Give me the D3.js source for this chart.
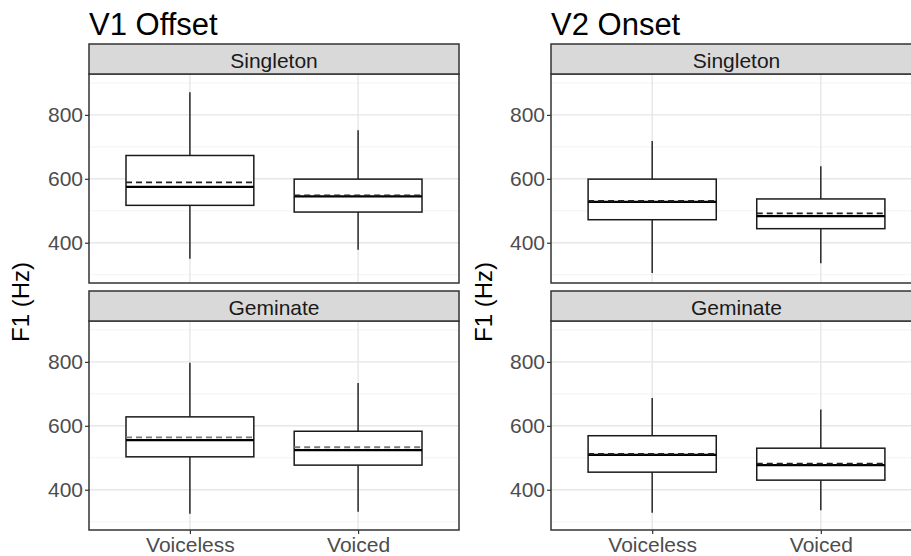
<!DOCTYPE html>
<html>
<head>
<meta charset="utf-8">
<script src="https://cdn.jsdelivr.net/npm/d3@7/dist/d3.min.js"></script>
<style>
  html, body { margin: 0; padding: 0; background: #fff; }
  svg { display: block; font-family: "Liberation Sans", Arial, sans-serif; }
</style>
</head>
<body>
<svg id="chart" width="911" height="556"></svg>
<script>
// ---- data ----
const titles = ["V1 Offset", "V2 Onset"];
const facets = ["Singleton", "Geminate"];
const categories = ["Voiceless", "Voiced"];
const yTicks = [400, 600, 800];
const yMinorTicks = [300, 500, 700, 900];
const yLabel = "F1 (Hz)";
// stats order: [lowerWhisker, q1, median, q3, upperWhisker, mean]
const statKeys = ["low", "q1", "median", "q3", "high", "mean"];
const v1Singleton = [[350, 517, 575, 673, 871, 589], [378, 496, 545, 599, 752, 548]];
const v1Geminate  = [[325, 503, 555, 628, 797, 564], [331, 477, 524, 583, 734, 533]];
const v2Singleton = [[305, 472, 528, 599, 718, 531], [336, 444, 483, 537, 639, 492]];
const v2Geminate  = [[328, 455, 509, 569, 687, 512], [336, 430, 477, 530, 651, 482]];

const chartData = [
  [v1Singleton, v1Geminate],
  [v2Singleton, v2Geminate]
];
const meanColors = [["#222", "#777"], ["#222", "#222"]];

// ---- layout ----
const svg = d3.select("#chart");
const charts = [
  { x0: 89, x1: 459, yLabelX: 21 },
  { x0: 551, x1: 922, yLabelX: 484 }
];
const rows = [
  { stripTop: 44, top: 74, bottom: 283 },
  { stripTop: 291, top: 321, bottom: 530 }
];
const yDomain = [274, 928];
const border = "#333333";

charts.forEach((c, ci) => {
  const g = svg.append("g");
  g.append("text")
    .attr("x", c.x0)
    .attr("y", 35)
    .attr("font-size", 31)
    .attr("fill", "#000")
    .text(titles[ci]);

  g.append("text")
    .attr("transform", `translate(${c.yLabelX + 8},302) rotate(-90)`)
    .attr("text-anchor", "middle")
    .attr("font-size", 24)
    .attr("fill", "#000")
    .text(yLabel);

  const x = d3.scalePoint().domain(categories).range([c.x0, c.x1]).padding(0.6);
  const bw = 0.76 * x.step();

  rows.forEach((r, ri) => {
    const y = d3.scaleLinear().domain(yDomain).range([r.bottom, r.top]);
    const pg = g.append("g");

    pg.append("rect").attr("x", c.x0).attr("y", r.top)
      .attr("width", c.x1 - c.x0).attr("height", r.bottom - r.top).attr("fill", "#fff");

    pg.selectAll(".minor").data(yMinorTicks).join("line")
      .attr("x1", c.x0).attr("x2", c.x1)
      .attr("y1", d => y(d)).attr("y2", d => y(d))
      .attr("stroke", "#f0f0f0").attr("stroke-width", 0.8);
    pg.selectAll(".major").data(yTicks).join("line")
      .attr("x1", c.x0).attr("x2", c.x1)
      .attr("y1", d => y(d)).attr("y2", d => y(d))
      .attr("stroke", "#e6e6e6").attr("stroke-width", 1.4);
    pg.selectAll(".vmajor").data(categories).join("line")
      .attr("x1", d => x(d)).attr("x2", d => x(d))
      .attr("y1", r.top).attr("y2", r.bottom)
      .attr("stroke", "#e6e6e6").attr("stroke-width", 1.4);

    const data = chartData[ci][ri].map((s, i) => {
      const o = { cat: categories[i] };
      statKeys.forEach((k, j) => o[k] = s[j]);
      return o;
    });
    const bx = pg.selectAll(".box").data(data).join("g");
    bx.append("line")
      .attr("x1", d => x(d.cat)).attr("x2", d => x(d.cat))
      .attr("y1", d => y(d.high)).attr("y2", d => y(d.q3))
      .attr("stroke", "#1a1a1a").attr("stroke-width", 1.4);
    bx.append("line")
      .attr("x1", d => x(d.cat)).attr("x2", d => x(d.cat))
      .attr("y1", d => y(d.q1)).attr("y2", d => y(d.low))
      .attr("stroke", "#1a1a1a").attr("stroke-width", 1.4);
    bx.append("rect")
      .attr("x", d => x(d.cat) - bw / 2).attr("width", bw)
      .attr("y", d => y(d.q3)).attr("height", d => y(d.q1) - y(d.q3))
      .attr("fill", "#fff").attr("stroke", "#1a1a1a").attr("stroke-width", 1.5);
    bx.append("line")
      .attr("x1", d => x(d.cat) - bw / 2).attr("x2", d => x(d.cat) + bw / 2)
      .attr("y1", d => y(d.median)).attr("y2", d => y(d.median))
      .attr("stroke", "#000").attr("stroke-width", 2.2);
    bx.append("line")
      .attr("x1", d => x(d.cat) - bw / 2).attr("x2", d => x(d.cat) + bw / 2)
      .attr("y1", d => y(d.mean)).attr("y2", d => y(d.mean))
      .attr("stroke", meanColors[ci][ri]).attr("stroke-width", 1.8)
      .attr("stroke-dasharray", "6,4");

    pg.append("rect").attr("x", c.x0).attr("y", r.top)
      .attr("width", c.x1 - c.x0).attr("height", r.bottom - r.top)
      .attr("fill", "none").attr("stroke", border).attr("stroke-width", 1.5);

    pg.append("rect").attr("x", c.x0).attr("y", r.stripTop)
      .attr("width", c.x1 - c.x0).attr("height", r.top - r.stripTop)
      .attr("fill", "#d9d9d9").attr("stroke", border).attr("stroke-width", 1.5);
    pg.append("text")
      .attr("x", (c.x0 + c.x1) / 2)
      .attr("y", r.stripTop + 24)
      .attr("text-anchor", "middle")
      .attr("font-size", 21)
      .attr("fill", "#1a1a1a")
      .text(facets[ri]);

    const ya = pg.append("g").attr("transform", `translate(${c.x0},0)`)
      .call(d3.axisLeft(y).tickValues(yTicks).tickSize(4).tickPadding(2).tickFormat(d3.format("d")));
    ya.select(".domain").remove();
    ya.selectAll(".tick line").attr("stroke", "#333").attr("stroke-width", 1.2);
    ya.selectAll(".tick text").attr("font-size", 21).attr("fill", "#4d4d4d")
      .attr("font-family", "Liberation Sans, Arial, sans-serif");

    if (ri === rows.length - 1) {
      const xa = pg.append("g").attr("transform", `translate(0,${r.bottom})`)
        .call(d3.axisBottom(x).tickSize(4).tickPadding(3));
      xa.select(".domain").remove();
      xa.selectAll(".tick line").attr("stroke", "#333").attr("stroke-width", 1.2);
      xa.selectAll(".tick text").attr("font-size", 21).attr("fill", "#4d4d4d")
        .attr("font-family", "Liberation Sans, Arial, sans-serif");
    }
  });
});
</script>
</body>
</html>
